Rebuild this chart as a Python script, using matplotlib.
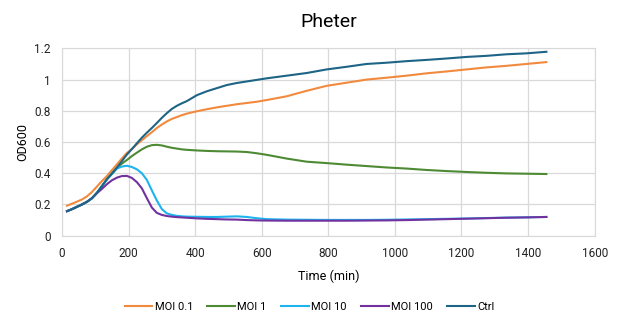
import matplotlib
matplotlib.use("Agg")
import matplotlib.pyplot as plt

# growth curves, OD600 read off the plate reader export
# 15 min steps early on where things change fast, coarser later
time_min = [15, 30, 45, 60, 75, 90, 105, 120, 135, 150, 165, 180, 195, 210,
            225, 240, 255, 270, 285, 300, 315, 330, 345, 360, 375,
            405, 435, 465, 495, 525, 555, 585, 615,
            675, 735, 795, 855, 915, 975, 1035, 1095, 1155, 1215, 1275,
            1335, 1395, 1455]

moi_01 = [0.192, 0.205, 0.218, 0.232, 0.252, 0.28, 0.315, 0.35, 0.382, 0.42,
          0.457, 0.495, 0.53, 0.555, 0.585, 0.612, 0.638, 0.663, 0.69, 0.712,
          0.732, 0.748, 0.76, 0.772, 0.782,
          0.797, 0.81, 0.822, 0.832, 0.842, 0.85, 0.858, 0.869,
          0.893, 0.928, 0.96, 0.98, 1.0, 1.012, 1.025, 1.04, 1.052, 1.065,
          1.078, 1.088, 1.1, 1.112]

moi_1 = [0.157, 0.17, 0.185, 0.2, 0.217, 0.24, 0.275, 0.318, 0.362, 0.398,
         0.436, 0.462, 0.485, 0.51, 0.532, 0.553, 0.57, 0.58, 0.582, 0.578,
         0.57, 0.563, 0.558, 0.553, 0.55,
         0.546, 0.543, 0.541, 0.54, 0.539, 0.536, 0.528, 0.518,
         0.494, 0.474, 0.465, 0.455, 0.446, 0.437, 0.43, 0.421, 0.414,
         0.408, 0.403, 0.399, 0.397, 0.395]

moi_10 = [0.157, 0.17, 0.185, 0.2, 0.217, 0.24, 0.275, 0.318, 0.36, 0.395,
          0.43, 0.443, 0.448, 0.44, 0.425, 0.4, 0.357, 0.29, 0.225, 0.17,
          0.143, 0.133, 0.127, 0.124, 0.122,
          0.121, 0.12, 0.12, 0.122, 0.124, 0.12, 0.112, 0.106,
          0.103, 0.102, 0.101, 0.101, 0.101, 0.102, 0.104, 0.106, 0.108,
          0.11, 0.113, 0.116, 0.118, 0.12]

moi_100 = [0.157, 0.17, 0.185, 0.2, 0.217, 0.24, 0.272, 0.3, 0.33, 0.355,
           0.372, 0.382, 0.383, 0.37, 0.343, 0.303, 0.24, 0.18, 0.146, 0.133,
           0.126, 0.122, 0.119, 0.117, 0.115,
           0.111, 0.108, 0.106, 0.104, 0.103, 0.1, 0.098, 0.097,
           0.096, 0.096, 0.096, 0.096, 0.097, 0.098, 0.1, 0.103, 0.106,
           0.109, 0.112, 0.115, 0.117, 0.12]

ctrl = [0.157, 0.17, 0.185, 0.2, 0.217, 0.24, 0.275, 0.318, 0.362, 0.398,
        0.436, 0.478, 0.52, 0.555, 0.592, 0.628, 0.66, 0.69, 0.722, 0.755,
        0.785, 0.812, 0.832, 0.848, 0.862,
        0.9, 0.925, 0.945, 0.965, 0.978, 0.988, 0.998, 1.008,
        1.025, 1.042, 1.065, 1.082, 1.1, 1.108, 1.118, 1.126, 1.135,
        1.145, 1.152, 1.162, 1.168, 1.178]

labels = ["MOI 0.1", "MOI 1", "MOI 10", "MOI 100", "Ctrl"]
colors = ["#F28A3E", "#4E8A33", "#1DB4EE", "#7132A0", "#1D6486"]

plt.rcParams['font.family'] = ['Roboto', 'DejaVu Sans']

fig = plt.figure(figsize=(6.23, 3.23), dpi=100)
ax = fig.add_axes([0.0995, 0.2703, 0.855, 0.580])

for series, lab, col in zip([moi_01, moi_1, moi_10, moi_100, ctrl], labels, colors):
    ax.plot(time_min, series, color=col, lw=1.5, label=lab,
            solid_joinstyle="round")

ax.set_xlim(0, 1600)
ax.set_ylim(0, 1.2)
ax.set_xticks(range(0, 1601, 200))
ax.set_yticks([0, 0.2, 0.4, 0.6, 0.8, 1.0, 1.2])
ax.set_yticklabels(["0", "0.2", "0.4", "0.6", "0.8", "1", "1.2"])
ax.grid(True, color="#D9D9D9", lw=0.9)
ax.set_axisbelow(True)
for s in ax.spines.values():
    s.set_color("#D9D9D9")
ax.tick_params(length=0, labelsize=8.5, colors="#222222", pad=8)

ax.set_xlabel("Time (min)", fontsize=9, labelpad=7)
ax.set_ylabel("OD600", fontsize=9, labelpad=4)
fig.text(0.527, 0.932, "Pheter", ha="center", va="center", fontsize=14)

fig.legend(loc="center", bbox_to_anchor=(0.497, 0.05), ncol=5, frameon=False,
           fontsize=8, handlelength=2.5, handletextpad=0.2, columnspacing=1.3)

fig.savefig("out.png", dpi=100)
